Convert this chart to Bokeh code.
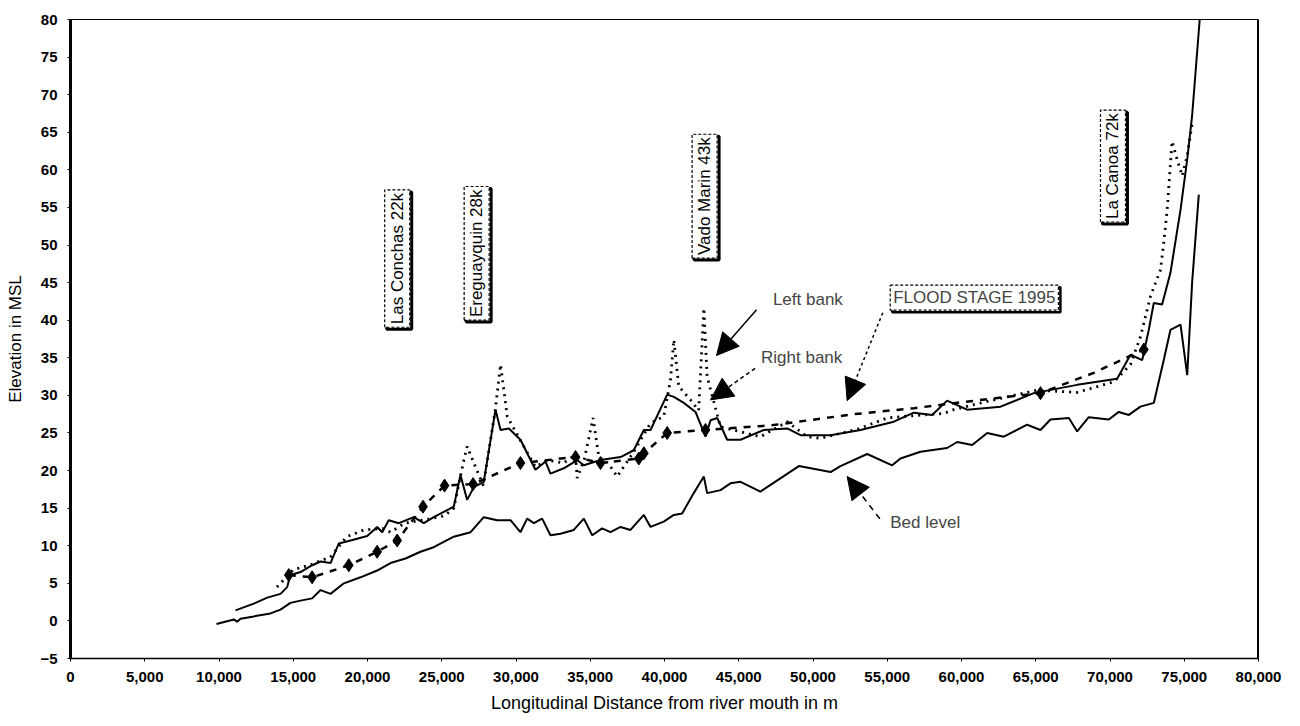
import math
from bokeh.plotting import figure
from bokeh.models import (Label, Arrow, NormalHead, Span, FixedTicker,
                          NumeralTickFormatter)
from bokeh.embed import file_html
from bokeh.resources import INLINE

# ---------------- data ----------------
bed_x = [9830, 11000, 11220, 11450, 12340, 13470, 14140, 14810, 15490, 16270, 16840, 17510,
         18410, 19530, 20650, 21550, 22560, 23570, 24460, 25810, 26940, 27830, 28730, 29630,
         30300, 30750, 31200, 31760, 32320, 33000, 33890, 34570, 35130, 35800, 36360, 37040,
         37710, 38610, 39060, 39950, 40630, 41190, 41970, 42650, 42870, 43770, 44440, 45120,
         46460, 49050, 51180, 51850, 53650, 55330, 55890, 57240, 59030, 59710, 60720, 61730,
         62850, 64420, 65320, 65990, 67230, 67790, 68570, 69920, 70590, 71270, 72050, 72950,
         73620, 74070, 74750, 75200, 75530, 75980]
bed_y = [-0.4, 0.2, -0.1, 0.3, 0.6, 1.0, 1.5, 2.4, 2.7, 3.0, 4.1, 3.6,
         5.0, 5.8, 6.7, 7.7, 8.3, 9.2, 9.8, 11.2, 11.8, 13.8, 13.4, 13.4,
         11.8, 13.6, 13.0, 13.6, 11.4, 11.6, 12.1, 13.6, 11.4, 12.3, 11.8, 12.5,
         12.1, 14.1, 12.5, 13.2, 14.1, 14.3, 17.0, 19.2, 17.0, 17.4, 18.3, 18.5,
         17.2, 20.6, 19.8, 20.6, 22.2, 20.7, 21.6, 22.5, 23.0, 23.8, 23.4, 25.0,
         24.5, 26.1, 25.4, 26.8, 27.0, 25.2, 27.1, 26.8, 27.8, 27.4, 28.5, 29.0,
         34.7, 38.7, 39.4, 32.7, 45.0, 56.7]

right_x = [11110, 12340, 13250, 14140, 14590, 14810, 15490, 16160, 16840, 17510, 18070, 18860,
           19980, 20650, 20990, 21430, 22110, 23120, 23790, 24460, 25810, 26260, 26710, 27160,
           27830, 28620, 28960, 29520, 30300, 31310, 31990, 32320, 33220, 34120, 34570, 35690,
           37040, 37930, 38610, 39060, 40180, 40630, 41300, 42090, 42760, 43100, 43550, 44220,
           45120, 46690, 48260, 49160, 51180, 53200, 55440, 56790, 58020, 59030, 60380, 62630,
           64870, 67790, 70480, 71380, 72170, 72610, 72950, 73510, 74070, 74750, 75200, 75530,
           76040]
right_y = [1.4, 2.3, 3.1, 3.6, 4.5, 6.1, 6.5, 7.3, 7.9, 7.7, 10.3, 10.7,
           11.3, 12.5, 11.8, 13.4, 13.0, 13.8, 13.0, 13.8, 15.2, 19.4, 16.1, 17.8,
           18.5, 28.1, 25.4, 25.6, 24.1, 20.1, 21.2, 19.6, 20.3, 21.4, 20.7, 21.4,
           21.8, 22.7, 25.4, 25.4, 30.1, 29.8, 29.0, 27.8, 24.5, 26.7, 27.0, 24.1,
           24.1, 25.4, 25.6, 24.7, 24.7, 25.4, 26.5, 27.7, 27.4, 29.3, 28.1, 28.5,
           30.3, 31.4, 32.2, 35.4, 34.7, 38.7, 42.3, 42.1, 46.3, 54.7, 61.4, 67.2,
           80.0]

left_x = [13900, 15000, 16200, 17500, 18600, 19750, 21000, 21550, 22500, 24000, 25200, 25810,
          26490, 26710, 27270, 27800, 28600, 28960, 29410, 30300, 31300, 32100, 33200, 34010,
          34120, 34600, 35190, 35580, 36200, 36810, 37930, 39060, 39950, 40400, 40630, 40960,
          41750, 42300, 42650, 42870, 43770, 44440, 46460, 48260, 49610, 50510, 53000, 55000,
          56120, 58810, 59480, 61730, 65100, 67790, 70260, 71380, 72050, 72730, 73400, 73620,
          73850, 74180, 74520, 74860, 75200, 75530]
left_y = [4.5, 6.8, 7.5, 8.5, 11.2, 12.1, 12.3, 11.8, 13.0, 13.5, 14.0, 15.0,
          21.4, 23.2, 20.5, 18.0, 28.0, 34.1, 27.2, 24.0, 20.5, 21.4, 21.0, 22.1,
          19.0, 21.5, 27.0, 21.8, 21.0, 19.2, 22.5, 26.3, 27.2, 32.0, 37.4, 31.2,
          29.4, 28.0, 41.6, 32.5, 25.8, 25.5, 24.5, 26.5, 24.5, 24.3, 25.5, 27.0,
          27.2, 27.6, 28.1, 29.2, 30.7, 30.4, 31.8, 34.1, 37.8, 43.2, 46.7, 50.3,
          54.7, 63.8, 61.4, 59.2, 61.9, 66.1]

flood_x = [14700, 16270, 18740, 20650, 22000, 23740, 25190, 27110, 30300, 34010, 35690,
           38270, 38610, 40180, 42760, 47140, 52750, 56790, 61730, 65320, 68910, 72280]
flood_y = [6.1, 5.8, 7.4, 9.2, 10.7, 15.2, 18.0, 18.2, 21.0, 21.8, 21.0,
           21.6, 22.3, 25.0, 25.4, 26.0, 27.5, 28.3, 29.5, 30.3, 33.0, 36.1]
flood_marker_x = [14700, 16270, 18740, 20650, 22000, 23740, 25190, 27110, 30300, 34010,
                  35690, 38270, 38610, 40180, 42760, 65320, 72280]
flood_marker_y = [6.1, 5.8, 7.4, 9.2, 10.7, 15.2, 18.0, 18.2, 21.0, 21.8,
                  21.0, 21.6, 22.3, 25.0, 25.4, 30.3, 36.1]

x_ticks = list(range(0, 80001, 5000))
y_ticks = list(range(-5, 81, 5))

station_names = ["Las Conchas 22k", "Ereguayquin 28k", "Vado Marin 43k", "La Canoa 72k"]
station_x = [22000, 27350, 42700, 70200]
station_y = [48.2, 48.9, 56.5, 60.5]

FONT = "Liberation Sans"

# ---------------- figure ----------------
p = figure(frame_width=1188, frame_height=639,
           x_range=(0, 80000), y_range=(-5, 80),
           output_backend="svg", toolbar_location=None,
           min_border_left=70, min_border_top=19, min_border_right=28, min_border_bottom=60)
p.background_fill_color = "white"
p.border_fill_color = "white"
p.grid.visible = False
p.outline_line_color = "black"
p.outline_line_width = 1

p.xaxis.ticker = FixedTicker(ticks=x_ticks)
p.yaxis.ticker = FixedTicker(ticks=y_ticks)
p.xaxis.formatter = NumeralTickFormatter(format="0,0")
p.xaxis.minor_tick_line_color = None
p.yaxis.minor_tick_line_color = None
for ax in (p.xaxis, p.yaxis):
    ax.major_tick_in = 0
    ax.major_tick_out = 3
    ax.major_label_text_font = FONT
    ax.major_label_text_font_size = "15px"
    ax.major_label_text_font_style = "bold"
    ax.major_label_text_color = "black"
    ax.axis_label_text_font = FONT
    ax.axis_label_text_font_style = "normal"
    ax.axis_label_text_color = "black"
    ax.axis_line_color = "black"
p.xaxis.axis_label_text_font_size = "18px"
p.yaxis.axis_label_text_font_size = "17px"
p.yaxis.axis_line_width = 3
p.xaxis.axis_line_width = 1.5
p.yaxis.major_label_standoff = 10
p.xaxis.major_label_standoff = 10
p.yaxis.axis_label_standoff = 12
p.xaxis.axis_label_standoff = 8
p.xaxis.axis_label = "Longitudinal Distance from river mouth in m"
p.yaxis.axis_label = "Elevation in MSL"

p.add_layout(Span(location=80000, dimension="height", line_color="black", line_width=3))

# ---------------- series ----------------
p.line(bed_x, bed_y, line_color="black", line_width=2)
p.line(right_x, right_y, line_color="black", line_width=2)
p.line(left_x, left_y, line_color="black", line_width=2.8, line_dash="2 5")
p.line(flood_x, flood_y, line_color="black", line_width=2.5, line_dash="7 7")
p.scatter(flood_marker_x, flood_marker_y, marker="diamond", size=13,
          fill_color="black", line_color="black")

# ---------------- station labels ----------------
for name, sx, sy in zip(station_names, station_x, station_y):
    # thick "shadow" box, offset right/down, drawn first
    p.add_layout(Label(x=sx, y=sy, text=name, angle=math.pi / 2, x_offset=2, y_offset=-2,
                       text_align="center", text_baseline="middle",
                       text_font=FONT, text_font_size="17px", text_color="white",
                       background_fill_color="white",
                       border_line_color="black", border_line_width=3, padding=3))
    p.add_layout(Label(x=sx, y=sy, text=name, angle=math.pi / 2,
                       text_align="center", text_baseline="middle",
                       text_font=FONT, text_font_size="17px", text_color="black",
                       background_fill_color="white",
                       border_line_color="black", border_line_width=1.2,
                       border_line_dash="3 2", padding=3))

# ---------------- callouts ----------------
p.add_layout(Label(x=47300, y=42.7, text="Left bank", text_align="left",
                   text_baseline="middle", text_font=FONT, text_font_size="17px"))
p.add_layout(Label(x=46500, y=35.0, text="Right bank", text_align="left",
                   text_baseline="middle", text_font=FONT, text_font_size="17px"))
p.add_layout(Label(x=55200, y=43.0, text="FLOOD STAGE 1995", text_align="left",
                   text_baseline="middle", text_font=FONT, text_font_size="17px",
                   x_offset=2, y_offset=-2, text_color="white",
                   background_fill_color="white", border_line_color="black",
                   border_line_width=2.5, padding=3))
p.add_layout(Label(x=55200, y=43.0, text="FLOOD STAGE 1995", text_align="left",
                   text_baseline="middle", text_font=FONT, text_font_size="17px",
                   background_fill_color="white", border_line_color="black",
                   border_line_width=1.2, border_line_dash="3 2", padding=3))
p.add_layout(Label(x=55200, y=13.1, text="Bed level", text_align="left",
                   text_baseline="middle", text_font=FONT, text_font_size="17px"))

def head():
    return NormalHead(size=22, fill_color="black", line_color="black")

p.add_layout(Arrow(end=head(), x_start=46200, y_start=41.4, x_end=43500, y_end=35.3,
                   line_color="black", line_width=1.5))
p.add_layout(Arrow(end=head(), x_start=46100, y_start=33.6, x_end=43100, y_end=29.4,
                   line_color="black", line_width=1.5, line_dash="4 3"))
p.add_layout(Arrow(end=head(), x_start=54700, y_start=41.0, x_end=52300, y_end=29.3,
                   line_color="black", line_width=1.5, line_dash="3 3"))
p.add_layout(Arrow(end=head(), x_start=54500, y_start=13.6, x_end=52300, y_end=19.2,
                   line_color="black", line_width=1.5, line_dash="6 5"))

open("out.html", "w").write(file_html(p, INLINE))
